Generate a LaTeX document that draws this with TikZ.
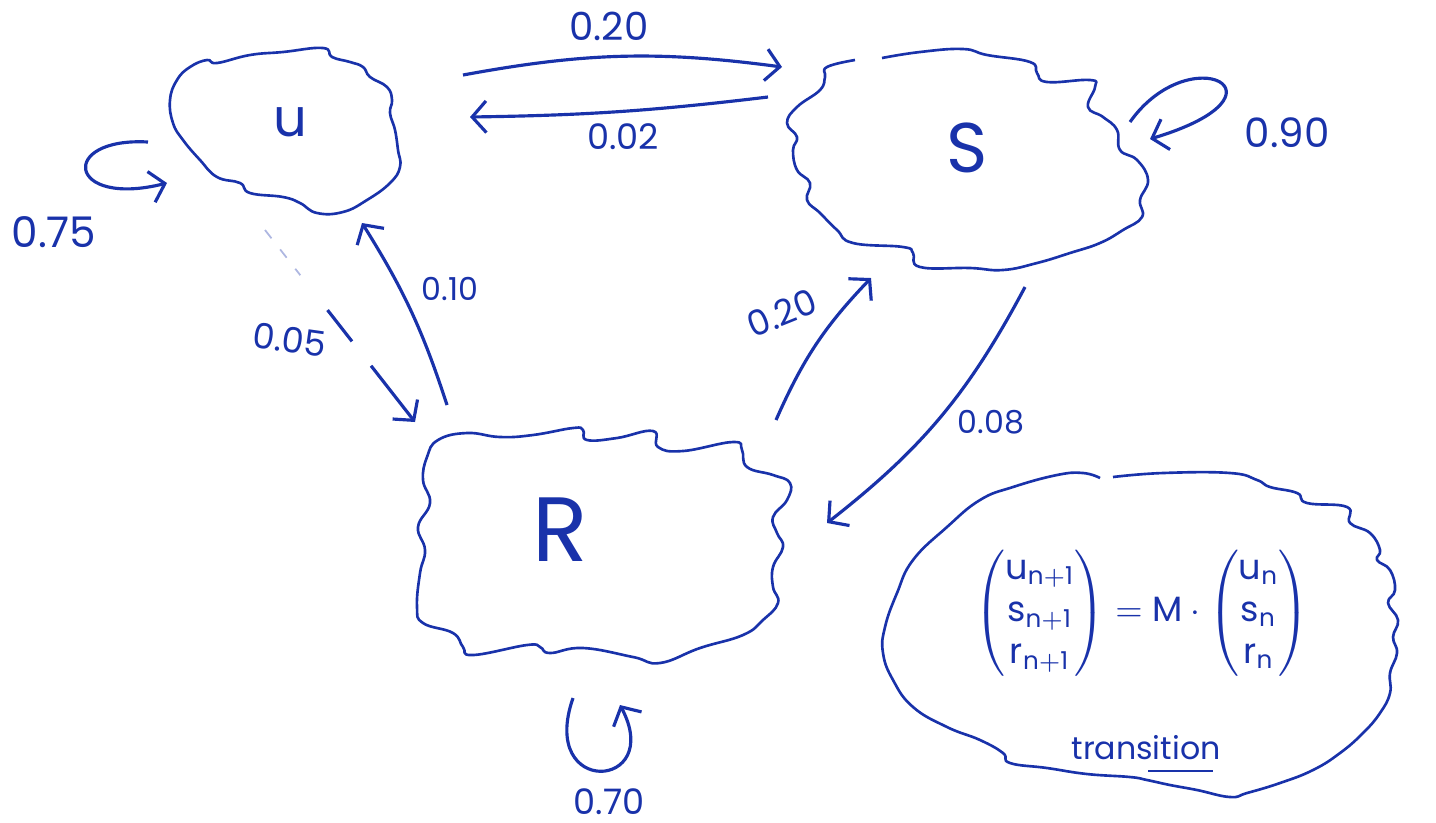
\documentclass[tikz,border=0pt]{standalone}
\usepackage{fontspec}
\usepackage{amsmath}
\setmainfont{Poppins}
\setsansfont{Poppins}
\usetikzlibrary{arrows.meta}
\definecolor{ink}{RGB}{25,50,170}

\begin{document}
\begin{tikzpicture}[
    every node/.style={font=\fontsize{10}{12}\selectfont, text=ink},
    blob/.style={draw=ink, line width=0.75pt, line join=round},
    arrow/.style={->, draw=ink, line width=0.9pt, >={Straight Barb[length=4pt, width=9pt]}},
    faint/.style={draw=ink!35, line width=0.5pt, dash pattern=on 3pt off 4pt}
]
\useasboundingbox (0,0) rectangle (14.36,-8.22);

% hand-drawn outlines
\draw[blob] plot[smooth cycle, tension=0.75] coordinates {(2.17,-0.63) (2.50,-0.55) (2.83,-0.52) (3.23,-0.48) (3.32,-0.57) (3.50,-0.62) (3.63,-0.67) (3.70,-0.77) (3.87,-0.87) (3.92,-1.00) (3.90,-1.13) (3.95,-1.30) (3.98,-1.50) (4.00,-1.67) (3.90,-1.83) (3.67,-2.00) (3.43,-2.12) (3.17,-2.13) (3.00,-2.03) (2.83,-1.97) (2.50,-1.93) (2.40,-1.83) (2.17,-1.77) (2.00,-1.60) (1.83,-1.40) (1.73,-1.23) (1.70,-1.00) (1.77,-0.80) (1.90,-0.67) (2.07,-0.60)};
\draw[blob] plot[smooth, tension=0.75] coordinates {(8.82,-0.58) (9.20,-0.52) (9.63,-0.49) (9.87,-0.55) (10.30,-0.62) (10.37,-0.73) (10.47,-0.82) (10.90,-0.80) (10.95,-0.87) (10.88,-1.07) (11.03,-1.17) (11.17,-1.30) (11.20,-1.50) (11.37,-1.60) (11.48,-1.80) (11.40,-2.00) (11.42,-2.17) (11.23,-2.30) (11.00,-2.43) (10.70,-2.53) (10.37,-2.63) (10.03,-2.70) (9.70,-2.68) (9.20,-2.67) (9.13,-2.53) (9.03,-2.47) (8.53,-2.43) (8.37,-2.30) (8.20,-2.13) (8.07,-2.00) (8.10,-1.83) (7.97,-1.70) (7.93,-1.50) (7.97,-1.37) (7.87,-1.23) (7.97,-1.07) (8.20,-0.90) (8.25,-0.77) (8.27,-0.67) (8.55,-0.60)};
\draw[blob] plot[smooth cycle, tension=0.75] coordinates {(4.38,-4.40) (4.67,-4.33) (5.00,-4.37) (5.33,-4.35) (5.73,-4.28) (5.83,-4.30) (5.87,-4.40) (6.17,-4.38) (6.53,-4.31) (6.58,-4.47) (6.83,-4.51) (7.33,-4.42) (7.42,-4.50) (7.47,-4.67) (7.73,-4.75) (7.90,-4.83) (7.87,-5.00) (7.73,-5.17) (7.77,-5.33) (7.83,-5.47) (7.73,-5.67) (7.73,-5.87) (7.78,-6.03) (7.63,-6.20) (7.43,-6.35) (7.00,-6.48) (6.60,-6.63) (6.33,-6.57) (5.83,-6.48) (5.50,-6.53) (5.40,-6.47) (5.27,-6.45) (4.73,-6.55) (4.63,-6.47) (4.53,-6.33) (4.23,-6.23) (4.17,-6.07) (4.20,-5.73) (4.25,-5.50) (4.18,-5.27) (4.30,-5.03) (4.23,-4.80) (4.27,-4.57)};
\draw[blob] plot[smooth, tension=0.75] coordinates {(11.13,-4.77) (11.63,-4.73) (12.30,-4.73) (12.57,-4.80) (12.70,-4.87) (12.97,-4.93) (13.07,-5.03) (13.47,-5.07) (13.50,-5.23) (13.70,-5.33) (13.80,-5.50) (13.77,-5.60) (13.90,-5.70) (13.95,-5.90) (13.88,-6.03) (13.98,-6.20) (13.93,-6.37) (13.97,-6.53) (13.90,-6.73) (13.90,-6.93) (13.80,-7.13) (13.63,-7.33) (13.40,-7.53) (13.13,-7.70) (12.80,-7.83) (12.47,-7.93) (12.30,-7.97) (11.97,-7.90) (11.70,-7.85) (11.47,-7.80) (11.30,-7.77) (10.87,-7.74) (10.47,-7.68) (10.10,-7.63) (10.03,-7.53) (9.80,-7.40) (9.47,-7.27) (9.13,-7.07) (8.93,-6.80) (8.83,-6.53) (8.85,-6.27) (8.97,-5.93) (9.13,-5.60) (9.47,-5.27) (9.80,-5.00) (10.13,-4.87) (10.57,-4.75) (10.83,-4.73) (11.00,-4.78)};

% states
\node[font=\fontsize{15}{18}\selectfont] (u) at (2.90,-1.22) {u};
\node[font=\fontsize{20}{24}\selectfont] (s) at (9.67,-1.48) {S};
\node[font=\fontsize{26}{30}\selectfont] (r) at (5.60,-5.30) {R};

% transition equation
\node (eq) at (11.42,-6.13) {$\begin{pmatrix} \mathsf{u}_{\mathsf{n+1}} \\ \mathsf{s}_{\mathsf{n+1}} \\ \mathsf{r}_{\mathsf{n+1}} \end{pmatrix} = \mathsf{M}\cdot\begin{pmatrix} \mathsf{u}_{\mathsf{n}} \\ \mathsf{s}_{\mathsf{n}} \\ \mathsf{r}_{\mathsf{n}} \end{pmatrix}$};
\node[font=\fontsize{9}{11}\selectfont] (trans) at (11.46,-7.48) {transition};
\draw[ink, line width=0.8pt] ([shift={(0.02,-0.23)}]trans.center) -- ([shift={(0.67,-0.23)}]trans.center);

% transitions between states
\draw[arrow] ([shift={(1.73,0.47)}]u.center) to[bend left=9] ([shift={(-1.85,0.81)}]s.center);
\draw[arrow] ([shift={(-1.99,0.51)}]s.center) to[bend left=3] ([shift={(1.80,0.05)}]u.center);
\draw[arrow] ([shift={(-1.42,-0.20)}]u.center) .. controls +(-0.9,0.05) and +(-1.0,-0.25) .. ([shift={(-1.23,-0.61)}]u.center);
\draw[faint, shorten >=53pt] ([shift={(-0.25,-1.08)}]u.center) -- ([shift={(-1.45,1.08)}]r.center);
\draw[arrow, dash pattern=on 0pt off 28.9pt on 11.3pt off 8.8pt on 30pt] ([shift={(-0.25,-1.08)}]u.center) -- ([shift={(-1.45,1.08)}]r.center);
\draw[arrow] ([shift={(-1.13,1.25)}]r.center) to[bend right=7] ([shift={(0.72,-1.01)}]u.center);
\draw[arrow] ([shift={(2.16,1.10)}]r.center) to[bend left=10] ([shift={(-0.96,-1.30)}]s.center);
\draw[arrow] ([shift={(0.58,-1.39)}]s.center) to[bend left=12] ([shift={(2.67,0.07)}]r.center);
\draw[arrow] ([shift={(0.13,-1.68)}]r.center) .. controls +(-0.35,-1.0) and +(0.45,-0.85) .. ([shift={(0.60,-1.75)}]r.center);
\draw[arrow] ([shift={(1.63,0.26)}]s.center) .. controls +(0.6,0.85) and +(1.5,0.45) .. ([shift={(1.83,0.09)}]s.center);

% probabilities
\node[font=\fontsize{11}{13}\selectfont] (p-us) at (6.09,-0.26) {0.20};
\node (p-su) at (6.23,-1.37) {0.02};
\node[font=\fontsize{12}{14}\selectfont] (p-uu) at (0.54,-2.32) {0.75};
\node[rotate=-8] (p-ur) at (2.90,-3.40) {0.05};
\node[font=\fontsize{9}{11}\selectfont] (p-ru) at (4.50,-2.89) {0.10};
\node[rotate=22] (p-rs) at (7.82,-3.13) {0.20};
\node[font=\fontsize{9}{11}\selectfont] (p-sr) at (9.91,-4.22) {0.08};
\node (p-rr) at (6.09,-8.02) {0.70};
\node[font=\fontsize{11.5}{14}\selectfont] (p-ss) at (12.87,-1.33) {0.90};
\end{tikzpicture}
\end{document}
